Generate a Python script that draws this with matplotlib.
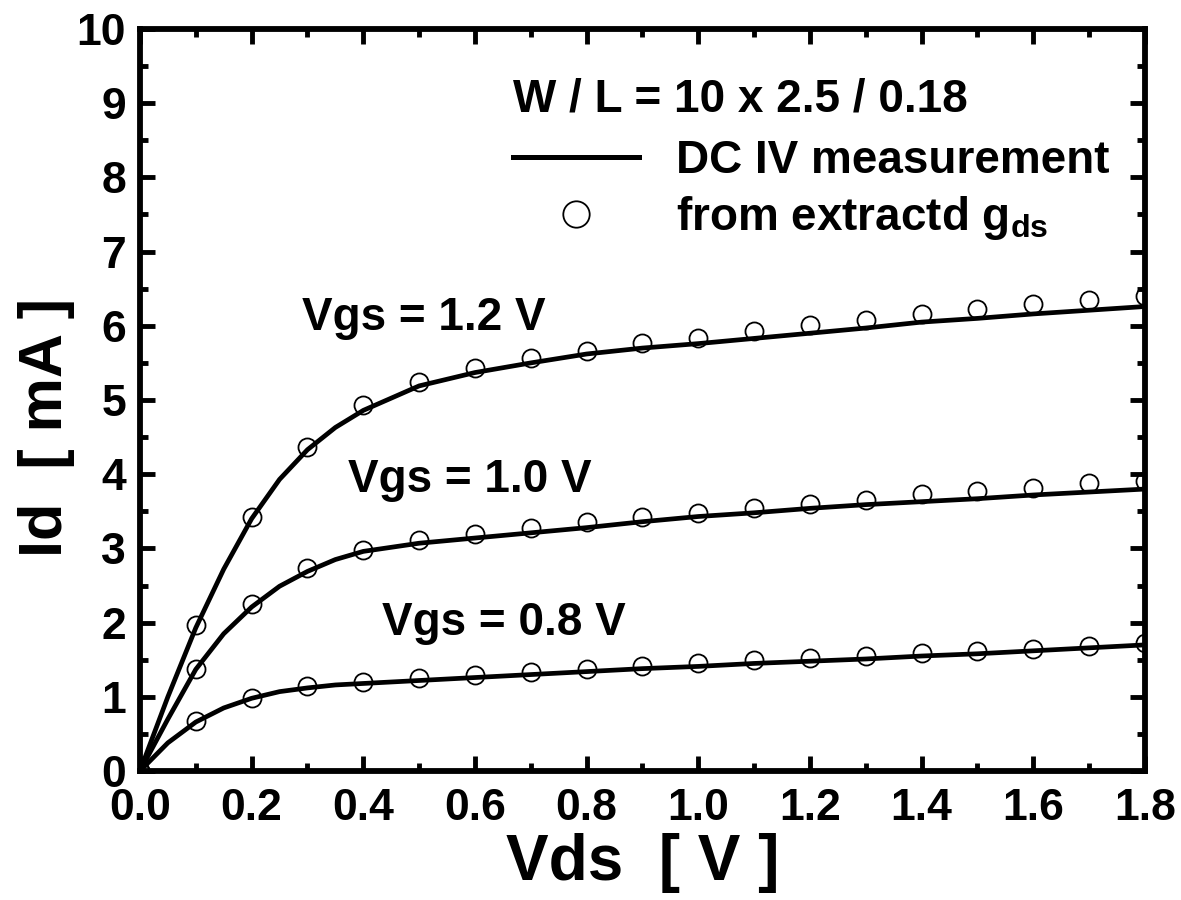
import matplotlib
matplotlib.use("Agg")
import matplotlib.pyplot as plt
from matplotlib.lines import Line2D
from matplotlib.ticker import MultipleLocator, FormatStrFormatter

plt.rcParams['font.family'] = ['Liberation Sans', 'DejaVu Sans']
plt.rcParams['font.weight'] = 'bold'
plt.rcParams['mathtext.fontset'] = 'custom'
plt.rcParams['mathtext.rm'] = 'Liberation Sans:bold'
plt.rcParams['mathtext.it'] = 'Liberation Sans:bold'
plt.rcParams['mathtext.bf'] = 'Liberation Sans:bold'

# DC IV sweep (solid curves)
vds_iv = [0.0, 0.05, 0.1, 0.15, 0.2, 0.25, 0.3, 0.35, 0.4, 0.5, 0.6, 0.7, 0.8,
          0.9, 1.0, 1.1, 1.2, 1.3, 1.4, 1.5, 1.6, 1.7, 1.8]
id_iv_12 = [0.0, 1.00, 1.93, 2.72, 3.40, 3.93, 4.33, 4.63, 4.86, 5.19, 5.37, 5.50,
            5.62, 5.70, 5.76, 5.83, 5.90, 5.97, 6.05, 6.10, 6.16, 6.21, 6.26]
id_iv_10 = [0.0, 0.70, 1.37, 1.85, 2.21, 2.49, 2.69, 2.85, 2.96, 3.07, 3.14, 3.21,
            3.28, 3.36, 3.43, 3.48, 3.54, 3.59, 3.63, 3.67, 3.72, 3.76, 3.80]
id_iv_08 = [0.0, 0.38, 0.66, 0.85, 0.98, 1.07, 1.12, 1.16, 1.18, 1.22, 1.26, 1.30,
            1.34, 1.38, 1.41, 1.45, 1.48, 1.51, 1.55, 1.58, 1.62, 1.66, 1.70]

# current rebuilt from the extracted gds (circles)
vds_gds = [0.0, 0.1, 0.2, 0.3, 0.4, 0.5, 0.6, 0.7, 0.8, 0.9, 1.0, 1.1, 1.2,
           1.3, 1.4, 1.5, 1.6, 1.7, 1.8]
id_gds_12 = [0.0, 1.97, 3.43, 4.37, 4.93, 5.24, 5.43, 5.56, 5.66, 5.77, 5.84, 5.93,
             6.01, 6.08, 6.16, 6.22, 6.29, 6.35, 6.40]
id_gds_10 = [0.0, 1.37, 2.25, 2.73, 2.98, 3.11, 3.20, 3.28, 3.35, 3.42, 3.48, 3.54,
             3.60, 3.65, 3.73, 3.77, 3.82, 3.88, 3.91]
id_gds_08 = [0.0, 0.68, 0.99, 1.15, 1.20, 1.25, 1.29, 1.34, 1.37, 1.42, 1.45, 1.49,
             1.52, 1.55, 1.59, 1.62, 1.65, 1.68, 1.72]

vgs_labels = ["Vgs = 1.2 V", "Vgs = 1.0 V", "Vgs = 0.8 V"]
vgs_label_pos = [(0.29, 5.94), (0.372, 3.76), (0.433, 1.83)]

fig = plt.figure(figsize=(11.81, 9.0), dpi=100)
ax = fig.add_axes([0.1185, 0.1433, 0.851, 0.8245])

for ids in (id_iv_12, id_iv_10, id_iv_08):
    ax.plot(vds_iv, ids, color='black', lw=3.4, zorder=2,
            solid_joinstyle='round', solid_capstyle='round')
for ids in (id_gds_12, id_gds_10, id_gds_08):
    ax.plot(vds_gds, ids, ls='none', marker='o', ms=13, mfc='none',
            mec='black', mew=1.3, zorder=3)

for txt, (x, y) in zip(vgs_labels, vgs_label_pos):
    ax.text(x, y, txt, fontsize=33, fontweight='bold', ha='left', va='baseline')

ax.set_xlim(0, 1.8)
ax.set_ylim(0, 10)
ax.xaxis.set_major_locator(MultipleLocator(0.2))
ax.xaxis.set_minor_locator(MultipleLocator(0.1))
ax.xaxis.set_major_formatter(FormatStrFormatter('%.1f'))
ax.yaxis.set_major_locator(MultipleLocator(1))
ax.yaxis.set_minor_locator(MultipleLocator(0.5))
ax.tick_params(which='both', direction='in', top=True, right=True,
               width=3.5, labelsize=32)
ax.tick_params(axis='x', pad=12)
ax.tick_params(axis='y', pad=10)
ax.tick_params(which='major', length=11)
ax.tick_params(which='minor', length=6)
for sp in ax.spines.values():
    sp.set_linewidth(4.2)

ax.set_xlabel("Vds  [ V ]", fontsize=46, fontweight='bold', va='center')
ax.xaxis.set_label_coords(0.5, -0.124)
ax.set_ylabel("Id  [ mA ]", fontsize=44, fontweight='bold', va='center')
ax.yaxis.set_label_coords(-0.093, 0.4636)

handles = [Line2D([], [], color='black', lw=3.6),
           Line2D([], [], ls='none', marker='o', ms=19, mfc='none',
                  mec='black', mew=1.3)]
leg = ax.legend(handles, ["DC IV measurement", "from extractd g$_{\\rm ds}$"],
                title="W / L = 10 x 2.5 / 0.18", title_fontsize=33,
                fontsize=33, frameon=False, loc='upper left',
                bbox_to_anchor=(0.371, 0.934), borderpad=0, borderaxespad=0,
                handlelength=2.75, handletextpad=0.8, labelspacing=0.25,
                alignment='left')
leg.get_title().set_fontweight('bold')
leg._legend_box.sep = 12

fig.savefig("out.png", dpi=100)
